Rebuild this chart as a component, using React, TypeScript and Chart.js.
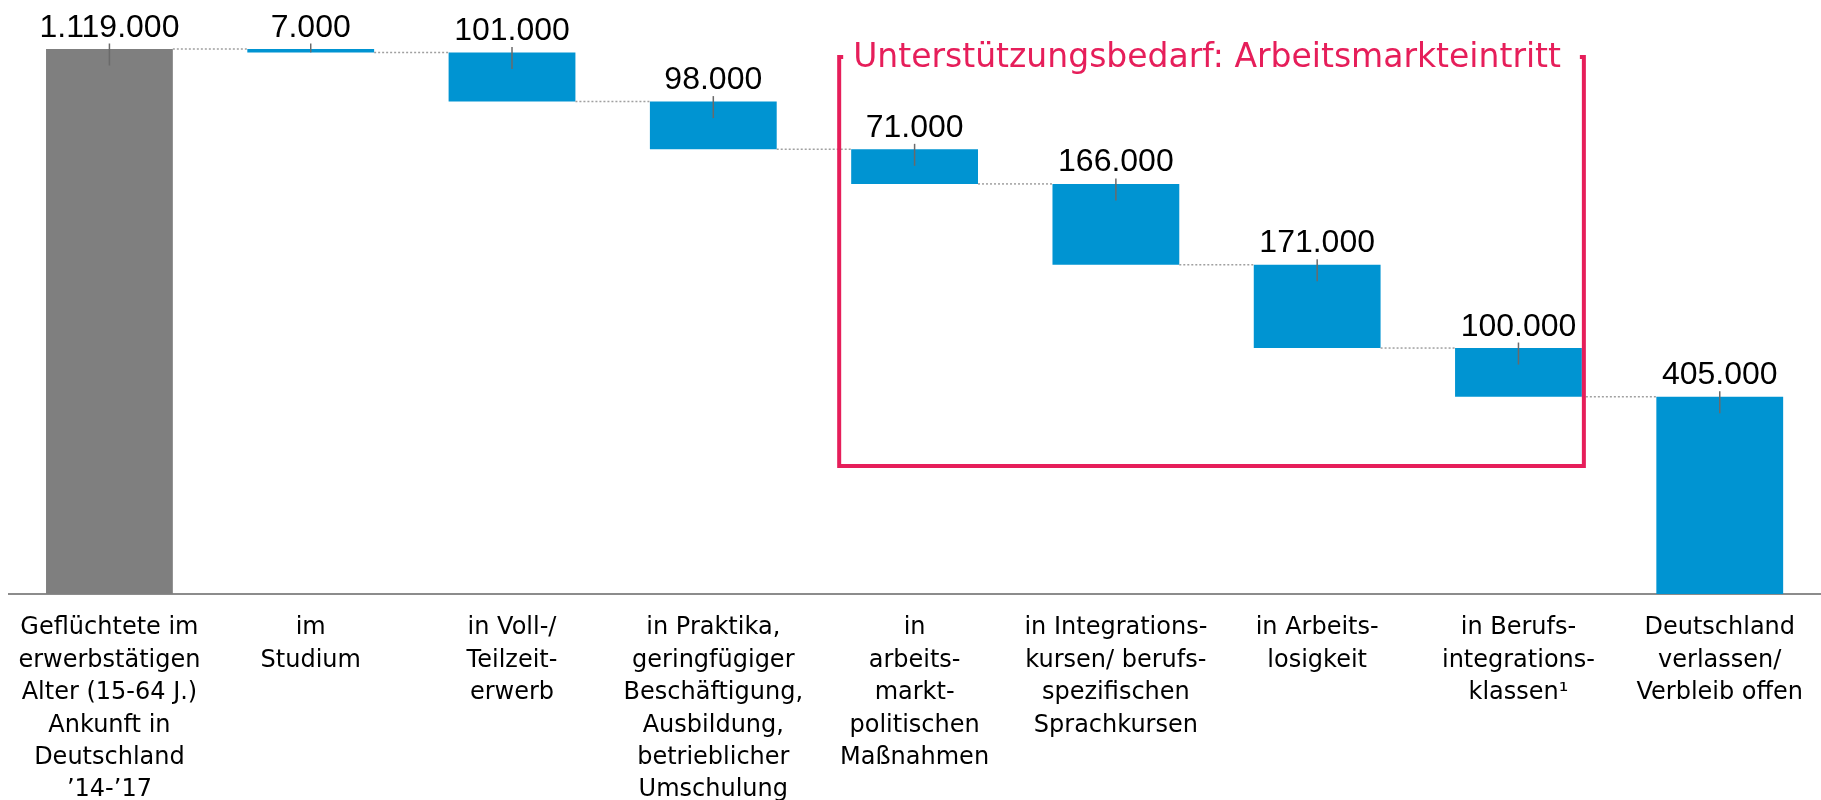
import React, { useEffect, useRef } from "react";
import { Chart, registerables } from "chart.js";

Chart.register(...registerables);

// ---- data ----
const categories: string[][] = [
  ["Geflüchtete im", "erwerbstätigen", "Alter (15-64 J.)", "Ankunft in", "Deutschland", "’14-’17"],
  ["im", "Studium"],
  ["in Voll-/", "Teilzeit-", "erwerb"],
  ["in Praktika,", "geringfügiger", "Beschäftigung,", "Ausbildung,", "betrieblicher", "Umschulung"],
  ["in", "arbeits-", "markt-", "politischen", "Maßnahmen"],
  ["in Integrations-", "kursen/ berufs-", "spezifischen", "Sprachkursen"],
  ["in Arbeits-", "losigkeit"],
  ["in Berufs-", "integrations-", "klassen¹"],
  ["Deutschland", "verlassen/", "Verbleib offen"],
];

const values: number[] = [1119000, 7000, 101000, 98000, 71000, 166000, 171000, 100000, 405000];

// "start" = total from zero, "step" = decrease, "end" = remaining total from zero
const barKinds: string[] = ["start", "step", "step", "step", "step", "step", "step", "step", "end"];

const barColors: string[] = ["#7F7F7F", "#0094D2", "#0094D2", "#0094D2", "#0094D2", "#0094D2", "#0094D2", "#0094D2", "#0094D2"];

const bracketTitle = "Unterstützungsbedarf: Arbeitsmarkteintritt";
const bracketFirstIndex = 4;
const bracketLastIndex = 7;

const PINK = "#E61E5A";

function formatDe(n: number): string {
  const s = Math.round(n).toString();
  return s.replace(/\B(?=(\d{3})+(?!\d))/g, ".");
}

function buildRanges(): [number, number][] {
  const out: [number, number][] = [];
  let cum = 0;
  values.forEach((v, i) => {
    const kind = barKinds[i];
    if (kind === "start") {
      out.push([0, v]);
      cum = v;
    } else if (kind === "step") {
      out.push([cum - v, cum]);
      cum -= v;
    } else {
      out.push([0, v]);
    }
  });
  return out;
}

const waterfallPlugin = {
  id: "waterfallDecor",
  afterDatasetsDraw(chart: any) {
    const ctx: CanvasRenderingContext2D = chart.ctx;
    const meta = chart.getDatasetMeta(0);
    const bars = meta.data.map((el: any) => el.getProps(["x", "y", "base", "width"], true));
    ctx.save();

    // dotted connectors
    ctx.strokeStyle = "#A0A0A0";
    ctx.lineWidth = 1.5;
    ctx.setLineDash([2, 2]);
    for (let i = 0; i < bars.length - 1; i++) {
      const a = bars[i];
      const b = bars[i + 1];
      const yLevel = Math.min(b.y, b.base);
      ctx.beginPath();
      ctx.moveTo(a.x + a.width / 2, yLevel);
      ctx.lineTo(b.x - b.width / 2, yLevel);
      ctx.stroke();
    }
    ctx.setLineDash([]);

    // leader lines + value labels
    bars.forEach((b: any, i: number) => {
      const top = Math.min(b.y, b.base);
      const bottom = Math.max(b.y, b.base);
      ctx.strokeStyle = "#6A6A6A";
      ctx.lineWidth = 1.5;
      ctx.beginPath();
      ctx.moveTo(b.x, top - 5.5);
      ctx.lineTo(b.x, Math.min(top + 16.5, bottom));
      ctx.stroke();

      ctx.fillStyle = "#000000";
      ctx.font = '32px "Liberation Sans", Arial, sans-serif';
      ctx.textAlign = "center";
      ctx.textBaseline = "alphabetic";
      ctx.fillText(formatDe(values[i]), b.x, top - 12.5);
    });

    // bracket
    const first = bars[bracketFirstIndex];
    const last = bars[bracketLastIndex];
    const left = first.x - first.width / 2 - 12;
    const right = last.x + last.width / 2 + 2;
    const top = chart.chartArea.top + 8;
    const bottom = chart.chartArea.top + 417;
    ctx.strokeStyle = PINK;
    ctx.lineWidth = 4;
    ctx.lineJoin = "miter";
    ctx.lineCap = "butt";
    ctx.beginPath();
    ctx.moveTo(left + 4, top);
    ctx.lineTo(left, top);
    ctx.lineTo(left, bottom);
    ctx.lineTo(right, bottom);
    ctx.lineTo(right, top);
    ctx.lineTo(right - 4, top);
    ctx.stroke();

    ctx.fillStyle = PINK;
    ctx.font = '33px "DejaVu Sans", sans-serif';
    ctx.textAlign = "left";
    ctx.textBaseline = "alphabetic";
    ctx.fillText(bracketTitle, left + 14, top + 10);

    ctx.restore();
  },
};

export default function App() {
  const canvasRef = useRef<HTMLCanvasElement | null>(null);

  useEffect(() => {
    if (!canvasRef.current) return;
    const ranges = buildRanges();
    const chart = new Chart(canvasRef.current, {
      type: "bar",
      data: {
        labels: categories,
        datasets: [
          {
            data: ranges as any,
            backgroundColor: barColors,
            borderWidth: 0,
            borderSkipped: false,
            barPercentage: 0.63,
            categoryPercentage: 1,
          },
        ],
      },
      options: {
        responsive: false,
        animation: false,
        devicePixelRatio: 1,
        layout: { padding: { left: 8, right: 0, top: 49, bottom: 0 } },
        plugins: {
          legend: { display: false },
          tooltip: { enabled: false },
          title: { display: false },
        },
        scales: {
          x: {
            offset: true,
            grid: { display: false, drawTicks: false, tickLength: 0 },
            border: { display: true, color: "#8C8C8C", width: 2 },
            ticks: {
              color: "#000000",
              padding: 18,
              maxRotation: 0,
              minRotation: 0,
              autoSkip: false,
              font: { family: '"DejaVu Sans", sans-serif', size: 24, lineHeight: 1.35 },
            },
            afterFit: (scale: any) => {
              scale.height = 206;
            },
          },
          y: {
            display: false,
            min: 0,
            max: values[0],
          },
        },
      },
      plugins: [waterfallPlugin],
    });
    return () => chart.destroy();
  }, []);

  return (
    <div style={{ position: "fixed", left: 0, top: 0, width: 1821, height: 800, background: "#ffffff" }}>
      <canvas ref={canvasRef} width={1821} height={800} style={{ display: "block", width: 1821, height: 800 }} />
    </div>
  );
}
